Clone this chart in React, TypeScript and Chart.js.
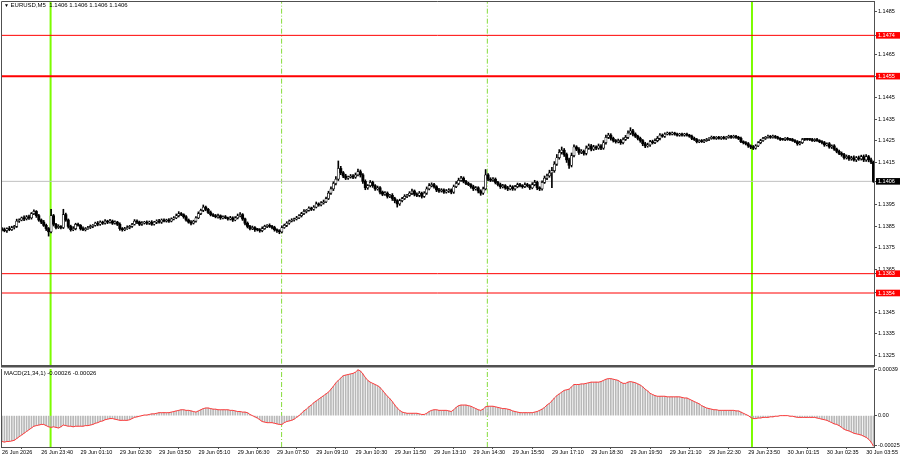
import { useEffect, useRef } from "react"
import { Chart, registerables, type ChartConfiguration, type Plugin } from "chart.js"

Chart.register(...registerables)
Chart.defaults.font.family = "'Liberation Sans', Arial, sans-serif"

// EURUSD M5 bars, prices in pips above BASE
const BASE = 1.13
const firstOpen = 84
const closes = [
  83.5, 83, 84, 83.5, 84.5, 85, 87.5, 88, 89, 88.5,
  89.5, 89, 91, 92, 90, 88, 87, 85.5, 84, 82.5,
  90, 86, 84.5, 85, 84.5, 90.5, 88, 85, 83.5, 84,
  86, 85.5, 84, 83.5, 84, 84.5, 85, 85.5, 86.5, 86,
  87, 86.5, 87.5, 87, 87.5, 86.5, 87, 86, 84, 83.5,
  84, 84.5, 85, 86, 87.5, 87, 86, 86.5, 87, 86.5,
  87, 86, 87, 87.5, 87, 88, 87.5, 88, 87.5, 88.5,
  89, 90, 91, 90.5, 89.5, 88, 87, 86.5, 87.5, 89,
  91, 92.5, 94, 93, 91.5, 90.5, 90, 89.5, 90, 89,
  89.5, 89, 88.5, 89, 88, 89, 90, 90.5, 88.5, 86.5,
  85, 84, 84.5, 83.5, 83.5, 83, 84, 85, 85.5, 85,
  84.5, 83.5, 83, 82.5, 84.5, 85.5, 86.5, 87.5, 88, 88.5,
  89, 90, 91, 92, 92.5, 93.5, 93, 94, 95.5, 95,
  96, 96.5, 98, 100.5, 102.5, 105, 107, 112, 110, 108.5,
  107.5, 108, 108.5, 108, 109, 110.5, 109, 106, 103, 104,
  105.5, 104, 102.5, 103, 101, 100, 100.5, 99, 99.5, 98,
  97, 95.5, 97, 98, 99, 99.5, 100.5, 101.5, 100, 99.5,
  100.5, 99, 100.5, 102.5, 104, 104.5, 103.5, 102, 101.5, 102,
  101, 101.5, 102, 101, 103.5, 105, 106.5, 107.5, 106, 105,
  104.5, 103.5, 102.5, 103, 101.5, 100.5, 102.5, 109, 107, 106.5,
  107, 105.5, 104.5, 103.5, 104, 103, 102.5, 103.5, 102.5, 103.5,
  104.5, 104, 103.5, 104.5, 104, 103, 104.5, 105.5, 103, 102.5,
  105.5, 107.5, 108.5, 110, 111, 114, 117, 119.5, 120.5, 118.5,
  116, 113.5, 118, 122, 121, 119.5, 120, 119, 121.5, 122.5,
  121, 122, 121.5, 122.5, 121.5, 124, 126.5, 127.5, 126, 125,
  124.5, 125, 124, 125.5, 126.5, 128.5, 129.5, 128, 127, 126,
  125, 123.5, 122.5, 123, 124.5, 124, 125, 126, 127.5, 127,
  128, 128.5, 128, 128.5, 128, 127.5, 128, 127.5, 128, 127.5,
  127, 126, 125.5, 124.5, 125, 124.5, 125, 125.5, 126, 126.5,
  126, 126.5, 126, 126.5, 126, 126.5, 127, 126.5, 127, 126.5,
  126, 124.5, 124, 123.5, 122.5, 122, 121.5, 122.5, 124, 125,
  126, 126.5, 127, 126.5, 127, 126.5, 126, 125.5, 125.5, 126,
  125.5, 125.5, 125, 124.5, 123.5, 124, 125.5, 125.5, 125.5, 125.5,
  125, 125.5, 125, 124.5, 124, 123, 123.5, 122, 122.5, 121,
  120, 119, 118.5, 117, 117.5, 116.5, 117, 116, 117, 116.5,
  117.5, 116, 117.5, 116, 115, 106,
]
const wickUp = [
  0.5, 0.8, 0.4, 1, 0.6, 0.5, 0.9, 0.6, 0.4, 1,
  0.6, 0.8, 0.5, 0.7, 0.4, 0.6, 0.5, 0.8, 0.6, 0.5,
  3, 0.6, 0.5, 0.8, 0.4, 2.5, 0.7, 0.5, 0.6, 0.9,
  0.5, 0.6, 0.4, 0.8, 0.5, 0.6, 0.7, 0.4, 0.5, 0.8,
  0.6, 0.5, 0.7, 0.4, 0.8, 0.5, 0.6, 0.4, 0.7, 0.5,
  0.6, 0.8, 0.5, 0.4, 0.7, 0.6, 0.5, 0.8, 0.4, 0.6,
  0.5, 0.7, 0.4, 0.6, 0.8, 0.5, 0.6, 0.4, 0.7, 0.5,
  0.6, 0.8, 0.9, 0.5, 0.4, 0.6, 0.5, 0.7, 0.4, 0.6,
  0.8, 0.6, 1, 0.5, 0.4, 0.7, 0.5, 0.6, 0.8, 0.4,
  0.5, 0.6, 0.4, 0.7, 0.5, 0.6, 0.8, 0.9, 0.5, 0.4,
  0.6, 0.5, 0.7, 0.4, 0.6, 0.5, 0.8, 0.6, 0.4, 0.7,
  0.5, 0.6, 0.4, 0.5, 0.8, 0.6, 0.7, 0.5, 0.6, 0.4,
  0.7, 0.5, 0.6, 0.8, 0.4, 0.6, 0.5, 0.7, 0.9, 0.5,
  0.6, 0.8, 0.7, 0.9, 1, 0.8, 1.2, 3.5, 1, 0.6,
  0.8, 0.5, 0.7, 0.6, 0.9, 1.2, 0.8, 0.6, 0.7, 0.5,
  0.9, 0.6, 0.5, 0.8, 0.6, 0.5, 0.7, 0.6, 0.5, 0.8,
  0.6, 0.5, 0.7, 0.6, 0.8, 0.5, 0.7, 0.9, 0.5, 0.6,
  0.8, 0.5, 0.7, 0.9, 1, 0.8, 0.6, 0.5, 0.7, 0.6,
  0.5, 0.7, 0.6, 0.5, 0.8, 0.9, 1, 0.8, 0.6, 0.5,
  0.6, 0.5, 0.7, 0.6, 0.5, 0.6, 0.8, 2.5, 0.6, 0.7,
  0.8, 0.6, 0.5, 0.7, 0.6, 0.5, 0.7, 0.8, 0.5, 0.6,
  0.7, 0.6, 0.5, 0.8, 0.6, 0.5, 0.9, 1, 0.6, 0.5,
  0.8, 1, 0.9, 1.2, 1.5, 1.2, 1.5, 1.3, 1.5, 0.8,
  0.7, 0.8, 1.2, 1, 0.6, 0.7, 0.8, 0.6, 1, 0.9,
  0.7, 0.8, 0.6, 0.9, 0.6, 1, 1.1, 0.9, 0.7, 0.6,
  0.5, 0.7, 0.6, 0.8, 0.9, 1, 1.5, 0.7, 0.6, 0.5,
  0.6, 0.5, 0.7, 0.8, 0.6, 0.7, 0.8, 0.9, 0.7, 0.6,
  0.6, 0.5, 0.4, 0.5, 0.4, 0.5, 0.4, 0.5, 0.4, 0.5,
  0.4, 0.5, 0.6, 0.5, 0.4, 0.5, 0.6, 0.5, 0.4, 0.6,
  0.5, 0.4, 0.5, 0.4, 0.5, 0.4, 0.5, 0.4, 0.5, 0.4,
  0.5, 0.6, 0.4, 0.5, 0.6, 0.5, 0.7, 0.6, 0.5, 0.6,
  0.5, 0.4, 0.5, 0.4, 0.5, 0.4, 0.5, 0.4, 0.5, 0.4,
  0.5, 0.4, 0.5, 0.4, 0.5, 0.6, 0.5, 0.4, 0.5, 0.4,
  0.5, 0.4, 0.5, 0.4, 0.5, 0.6, 0.5, 0.6, 0.5, 0.6,
  0.5, 0.6, 0.7, 0.5, 0.8, 0.6, 0.7, 0.9, 0.6, 0.8,
  0.7, 0.8, 1, 0.6, 0.8, 0.5,
]
const wickDown = [
  0.6, 0.5, 0.8, 0.5, 0.4, 0.7, 0.5, 0.6, 0.4, 0.8,
  0.5, 0.7, 0.6, 0.5, 0.8, 0.6, 0.7, 0.5, 0.9, 2,
  0.5, 0.8, 0.6, 0.5, 0.7, 0.5, 0.6, 0.8, 0.7, 0.5,
  0.6, 0.4, 0.7, 0.5, 0.6, 0.4, 0.5, 0.6, 0.4, 0.7,
  0.5, 0.6, 0.4, 0.7, 0.5, 0.6, 0.4, 0.6, 0.8, 0.7,
  0.5, 0.4, 0.6, 0.5, 0.4, 0.7, 0.6, 0.5, 0.4, 0.6,
  0.6, 0.5, 0.4, 0.7, 0.5, 0.6, 0.4, 0.5, 0.6, 0.4,
  0.5, 0.4, 0.6, 0.5, 0.7, 0.6, 0.5, 0.8, 0.4, 0.5,
  0.4, 0.5, 0.6, 0.7, 0.5, 0.6, 0.4, 0.5, 0.6, 0.7,
  0.5, 0.4, 0.6, 0.5, 0.7, 0.4, 0.5, 0.6, 0.7, 0.8,
  0.7, 0.6, 0.5, 0.8, 0.6, 0.7, 0.5, 0.4, 0.6, 0.5,
  0.6, 0.7, 0.8, 0.9, 0.5, 0.4, 0.6, 0.5, 0.4, 0.6,
  0.5, 0.4, 0.6, 0.5, 0.7, 0.4, 0.6, 0.5, 0.4, 0.6,
  0.5, 0.6, 0.4, 0.5, 0.6, 0.8, 0.7, 0.6, 0.9, 0.8,
  0.7, 0.6, 0.5, 0.8, 0.6, 0.5, 1, 1, 0.9, 0.7,
  0.6, 0.8, 0.7, 0.6, 0.9, 0.7, 0.6, 0.8, 0.6, 0.9,
  1, 1.5, 0.7, 0.6, 0.5, 0.6, 0.5, 0.7, 0.8, 0.6,
  0.7, 0.8, 0.5, 0.6, 0.5, 0.6, 0.7, 0.8, 0.6, 0.5,
  0.6, 0.5, 0.7, 0.8, 0.6, 0.5, 0.6, 0.5, 0.7, 0.6,
  0.5, 0.7, 0.8, 0.6, 0.9, 1, 0.6, 0.5, 0.7, 0.6,
  0.5, 0.7, 0.6, 0.8, 0.6, 0.7, 0.8, 0.5, 0.7, 0.6,
  0.5, 0.6, 0.7, 0.5, 0.6, 0.8, 0.5, 0.6, 0.9, 0.8,
  0.6, 0.5, 0.7, 0.6, 7, 0.8, 0.6, 0.7, 0.8, 0.9,
  1.2, 1.5, 0.8, 0.6, 0.7, 0.9, 0.6, 0.8, 0.7, 0.6,
  0.8, 0.6, 0.7, 0.6, 0.8, 0.6, 0.7, 0.6, 0.8, 0.7,
  0.7, 0.6, 0.8, 0.6, 0.5, 0.6, 0.7, 0.8, 0.6, 0.7,
  0.8, 0.9, 0.8, 0.6, 0.7, 0.6, 0.5, 0.6, 0.7, 0.5,
  0.5, 0.4, 0.5, 0.4, 0.5, 0.4, 0.5, 0.4, 0.5, 0.4,
  0.5, 0.6, 0.5, 0.6, 0.5, 0.4, 0.5, 0.4, 0.5, 0.4,
  0.4, 0.5, 0.4, 0.5, 0.4, 0.5, 0.4, 0.5, 0.4, 0.5,
  0.6, 0.5, 0.6, 0.5, 0.7, 0.8, 0.7, 0.5, 0.4, 0.5,
  0.4, 0.5, 0.4, 0.5, 0.4, 0.5, 0.4, 0.5, 0.4, 0.5,
  0.4, 0.5, 0.4, 0.5, 0.7, 0.5, 0.4, 0.5, 0.4, 0.5,
  0.4, 0.5, 0.4, 0.5, 0.6, 0.7, 0.5, 0.6, 0.7, 0.6,
  0.7, 0.6, 0.8, 0.7, 0.6, 0.8, 0.7, 0.6, 0.8, 0.7,
  0.6, 0.8, 0.7, 0.9, 0.8, 0.5,
]
// MACD(21,34,1) per bar, in units of 0.00001
const macd = [
  -22, -22.5, -22, -22, -21.5, -21, -19.5, -18, -16.5, -15,
  -13.5, -12, -10.5, -9, -8.5, -8, -7.5, -7.5, -8.5, -9.5,
  -10, -9.5, -10, -10.5, -9.5, -8, -8.5, -9, -9, -9.5,
  -9, -9, -9, -9, -8.5, -8.5, -8, -7.5, -6.5, -6,
  -5, -4.5, -3.5, -3, -2.5, -2.5, -3, -3.5, -4, -4,
  -4, -4, -3.5, -2.5, -1.5, -1, -0.5, 0, 0.5, 0.5,
  1, 1.5, 1.5, 2, 2.5, 2.5, 2.5, 2.5, 2.5, 3,
  3.5, 4, 4.5, 5, 5, 4.5, 4.5, 4, 3.5, 3,
  4, 5, 6, 6.5, 6.5, 6, 5.5, 5.5, 5, 5,
  5, 5, 5, 4.5, 4.5, 4, 3.5, 3.5, 3, 3,
  2.5, 1, 0, -1, -2, -3.5, -5, -5.5, -6, -6,
  -6, -6.5, -7, -7.5, -7.5, -6, -5, -4.5, -4, -3,
  -1.5, 0, 2, 4, 5.5, 7.5, 9, 11, 12.5, 14,
  15.5, 17, 18.5, 20, 22.5, 25, 28, 30, 32, 34,
  34.5, 35, 35.5, 36, 37, 39, 38, 35.5, 32.5, 30,
  28.5, 27.5, 26.5, 25.5, 24, 21.5, 19, 16.5, 14.5, 12,
  9, 6.5, 4.5, 3, 2.5, 2, 2, 2, 2, 2,
  1.5, 1, 1, 2, 3.5, 4.5, 5, 5, 4.5, 4.5,
  4.5, 4.5, 4, 3.5, 5, 7, 8.5, 9, 9, 9,
  8.5, 8, 7, 6, 5, 4.5, 5.5, 7.5, 8, 8,
  8, 7.5, 7, 6.5, 6, 6, 5.5, 5, 4, 3.5,
  3, 2.5, 2.5, 2.5, 2.5, 2.5, 2.5, 3, 3.5, 4.5,
  5.5, 7, 9, 10.5, 12.5, 15, 17, 18.5, 20, 21.5,
  22, 22.5, 24.5, 26.5, 26.5, 26.5, 27, 27, 27.5, 28,
  28.5, 28.5, 28.5, 28.5, 29, 30, 31, 31.5, 31.5, 31,
  30.5, 30, 28.5, 27.5, 27.5, 28.5, 29, 28.5, 28, 27,
  26, 24.5, 22.5, 21, 19, 18, 17, 16.5, 16.5, 16.5,
  16.5, 16, 16, 16, 16, 16, 16, 15.5, 15, 15,
  14, 13, 12, 11, 10, 8.5, 7.5, 6.5, 6, 5.5,
  5, 5, 4.5, 4.5, 4.5, 4.5, 4.5, 4.5, 4.5, 4,
  4, 3, 2, 1, 0, -1.5, -2.5, -2.5, -2, -2,
  -1.5, -1.5, -1.5, -1, -1, -0.5, -0.5, 0, 0, 0,
  0, -0.5, -0.5, -1, -1.5, -1.5, -1.5, -1.5, -1.5, -1.5,
  -1.5, -1.5, -2, -2.5, -3, -3.5, -4, -5, -6, -7,
  -7.5, -8.5, -10, -11.5, -12.5, -13, -14, -15, -15.5, -16,
  -16.5, -17.5, -18.5, -20, -22.5, -26,
]

const timeTickIdx = [0, 16, 32, 48, 64, 80, 96, 112, 128, 144, 160, 176, 192, 208, 224, 240, 256, 272, 288, 304, 320, 336, 352]
const timeTickLabels = [
  "26 Jun 2026", "26 Jun 23:40", "29 Jun 01:10", "29 Jun 02:30", "29 Jun 03:50", "29 Jun 05:10",
  "29 Jun 06:30", "29 Jun 07:50", "29 Jun 09:10", "29 Jun 10:30", "29 Jun 11:50", "29 Jun 13:10",
  "29 Jun 14:30", "29 Jun 15:50", "29 Jun 17:10", "29 Jun 18:30", "29 Jun 19:50", "29 Jun 21:10",
  "29 Jun 22:30", "29 Jun 23:50", "30 Jun 01:15", "30 Jun 02:35", "30 Jun 03:55",
]
const priceTicks = [1.1485, 1.1465, 1.1445, 1.1435, 1.1425, 1.1415, 1.1395, 1.1385, 1.1375, 1.1365, 1.1345, 1.1335, 1.1325]
const levelPrices = [1.1474, 1.1455, 1.1363, 1.1354]
const lastPrice = 1.1406
const macdTicks = [0.00039, 0, -0.00025]
const greenLines = [19.8, 305.5] // bar index
const dashLines = [113.9, 197.7] // bar index

const X_MIN = -0.4
const X_MAX = 355.2
const AXIS_W = 26
const FRAME = "#505050"

const same = (a: number, b: number) => Math.abs(a - b) < 1e-7

const framePlugin: Plugin = {
  id: "frame",
  afterDraw(chart, _args, opts: any) {
    const { ctx, chartArea: a } = chart
    ctx.save()
    ctx.strokeStyle = FRAME
    ctx.lineWidth = 1
    ctx.beginPath()
    ctx.moveTo(a.left + 0.5, a.bottom)
    ctx.lineTo(a.left + 0.5, opts.top ? a.top + 0.5 : a.top)
    if (opts.top) ctx.lineTo(a.right, a.top + 0.5)
    ctx.stroke()
    if (opts.bottom) {
      ctx.fillStyle = FRAME
      ctx.fillRect(a.left, a.bottom - 1, a.right - a.left, opts.bottom)
    }
    ctx.restore()
  },
}

function hLine(y: number, color: string, width: number) {
  return {
    type: "line" as const,
    data: [{ x: X_MIN - 5, y }, { x: X_MAX + 5, y }],
    borderColor: color,
    borderWidth: width,
    pointRadius: 0,
    order: 10,
  }
}

function vLine(x: number, lo: number, hi: number, color: string, width: number, dash: number[] = []) {
  return {
    type: "line" as const,
    data: [{ x, y: lo }, { x, y: hi }],
    borderColor: color,
    borderWidth: width,
    borderDash: dash,
    pointRadius: 0,
    order: 11,
  }
}

const xScaleBase = { type: "linear" as const, min: X_MIN, max: X_MAX, offset: false }

function priceConfig(): ChartConfiguration {
  const opens = closes.map((c, i) => (i === 0 ? firstOpen : closes[i - 1]))
  const toPrice = (p: number) => BASE + p / 10000
  const wicks = closes.map((c, i) => ({
    x: i,
    y: [toPrice(Math.min(opens[i], c) - wickDown[i]), toPrice(Math.max(opens[i], c) + wickUp[i])],
  }))
  const bodies = closes.map((c, i) => ({ x: i, y: [toPrice(opens[i]), toPrice(c)] }))
  const bull = closes.map((c, i) => c > opens[i])
  const special = [...levelPrices, lastPrice]

  return {
    type: "bar",
    data: {
      datasets: [
        ...greenLines.map((x) => vLine(x, 1.12, 1.16, "#7cfc00", 2)),
        ...dashLines.map((x) => vLine(x, 1.12, 1.16, "#86dc3c", 1, [5, 2, 1, 2])),
        hLine(levelPrices[0], "#ff0000", 1),
        hLine(levelPrices[1], "#ff0000", 2),
        hLine(levelPrices[2], "#ff0000", 1),
        hLine(levelPrices[3], "#ff0000", 1),
        hLine(lastPrice, "#c0c0c0", 1),
        {
          type: "bar",
          data: wicks as any,
          backgroundColor: "#000",
          barThickness: 1,
          grouped: false,
          order: 2,
        },
        {
          type: "bar",
          data: bodies as any,
          backgroundColor: bull.map((b) => (b ? "#ffffff" : "#000000")),
          borderColor: "#000",
          borderWidth: bull.map((b) => (b ? 0.7 : 0)),
          borderSkipped: false,
          barThickness: 2.3,
          minBarLength: 1,
          grouped: false,
          order: 1,
        },
      ] as any,
    },
    options: {
      animation: false,
      responsive: true,
      maintainAspectRatio: false,
      events: [],
      layout: { padding: { left: 1, top: 1, right: 0, bottom: 2 } },
      plugins: {
        legend: { display: false },
        tooltip: { enabled: false },
        frame: { top: true, bottom: 2.5 },
      } as any,
      scales: {
        x: { ...xScaleBase, display: false },
        y: {
          type: "linear",
          position: "right",
          min: 1.132,
          max: 1.149,
          afterBuildTicks: (s) => {
            s.ticks = [...priceTicks, ...special].map((v) => ({ value: v }))
          },
          afterFit: (s) => {
            s.width = AXIS_W
            s.paddingTop = 0
            s.paddingBottom = 0
          },
          grid: { drawOnChartArea: false, drawTicks: true, tickLength: 3, color: FRAME },
          border: { display: true, color: FRAME },
          ticks: {
            autoSkip: false,
            padding: 1,
            font: { size: 5.5 },
            color: (c: any) => (special.some((v) => same(v, c.tick?.value)) ? "#ffffff" : "#000000"),
            showLabelBackdrop: (c: any) => special.some((v) => same(v, c.tick?.value)),
            backdropColor: (c: any) => (same(c.tick?.value, lastPrice) ? "#000000" : "#ff0000"),
            backdropPadding: { left: 2, right: 8, top: 0, bottom: 0 },
            callback: (v) => Number(v).toFixed(4),
          } as any,
        },
      },
    },
    plugins: [framePlugin],
  }
}

function macdConfig(): ChartConfiguration {
  const values = macd.map((v, i) => ({ x: i, y: v / 100000 }))
  return {
    type: "bar",
    data: {
      datasets: [
        ...greenLines.map((x) => vLine(x, -1, 1, "#7cfc00", 2)),
        ...dashLines.map((x) => vLine(x, -1, 1, "#86dc3c", 1, [5, 2, 1, 2])),
        {
          type: "line",
          data: values,
          borderColor: "#ff3b3b",
          borderWidth: 1,
          pointRadius: 0,
          tension: 0,
          order: 1,
        },
        {
          type: "bar",
          data: values,
          backgroundColor: "#b8b8b8",
          barThickness: 1,
          grouped: false,
          order: 2,
        },
      ] as any,
    },
    options: {
      animation: false,
      responsive: true,
      maintainAspectRatio: false,
      events: [],
      layout: { padding: { left: 1, top: 9, right: 0, bottom: 0 } },
      plugins: {
        legend: { display: false },
        tooltip: { enabled: false },
        frame: { top: false },
      } as any,
      scales: {
        x: {
          ...xScaleBase,
          afterBuildTicks: (s) => {
            s.ticks = timeTickIdx.map((v) => ({ value: v }))
          },
          afterFit: (s) => {
            s.height = 13
            s.paddingLeft = 0
            s.paddingRight = 0
          },
          grid: { drawOnChartArea: false, drawTicks: true, tickLength: 2, color: FRAME },
          border: { display: true, color: FRAME },
          ticks: {
            autoSkip: false,
            maxRotation: 0,
            minRotation: 0,
            align: "start",
            padding: 0,
            color: "#000",
            font: { size: 5.5 },
            callback: (v) => timeTickLabels[timeTickIdx.indexOf(Number(v))] ?? "",
          },
        },
        y: {
          type: "linear",
          position: "right",
          min: -0.000267,
          max: 0.000397,
          afterBuildTicks: (s) => {
            s.ticks = macdTicks.map((v) => ({ value: v }))
          },
          afterFit: (s) => {
            s.width = AXIS_W
            s.paddingTop = 0
            s.paddingBottom = 0
          },
          grid: { drawOnChartArea: false, drawTicks: true, tickLength: 3, color: FRAME },
          border: { display: true, color: FRAME },
          ticks: {
            autoSkip: false,
            padding: 1,
            color: "#000",
            font: { size: 5.5 },
            callback: (v) => (Number(v) === 0 ? "0.00" : Number(v).toFixed(5)),
          },
        },
      },
    },
    plugins: [framePlugin],
  }
}

function ChartCanvas({ make, top, height }: { make: () => ChartConfiguration; top: number; height: number }) {
  const canvasRef = useRef<HTMLCanvasElement>(null)
  const chartInstance = useRef<Chart | null>(null)

  useEffect(() => {
    if (!canvasRef.current) return
    if (chartInstance.current) chartInstance.current.destroy()
    chartInstance.current = new Chart(canvasRef.current, make())
    return () => {
      if (chartInstance.current) {
        chartInstance.current.destroy()
        chartInstance.current = null
      }
    }
  }, [make])

  return (
    <div style={{ position: "absolute", left: 0, top, width: 900, height }}>
      <canvas ref={canvasRef} />
    </div>
  )
}

const textStyle = {
  position: "absolute" as const,
  fontFamily: "'Liberation Sans', Arial, sans-serif",
  fontSize: 6,
  lineHeight: "7px",
  color: "#000",
  whiteSpace: "nowrap" as const,
  zIndex: 2,
}

export default function App() {
  return (
    <div style={{ position: "absolute", left: 0, top: 0, width: 900, height: 460, background: "#fff", overflow: "hidden" }}>
      <ChartCanvas make={priceConfig} top={0} height={368} />
      <ChartCanvas make={macdConfig} top={360} height={100} />
      <div style={{ ...textStyle, left: 4, top: 2 }}>
        <span style={{ fontSize: 5 }}>▼</span> EURUSD,M5&nbsp; 1.1406 1.1406 1.1406 1.1406
      </div>
      <div style={{ ...textStyle, left: 4, top: 370 }}>MACD(21,34,1) -0.00026 -0.00026</div>
    </div>
  )
}
